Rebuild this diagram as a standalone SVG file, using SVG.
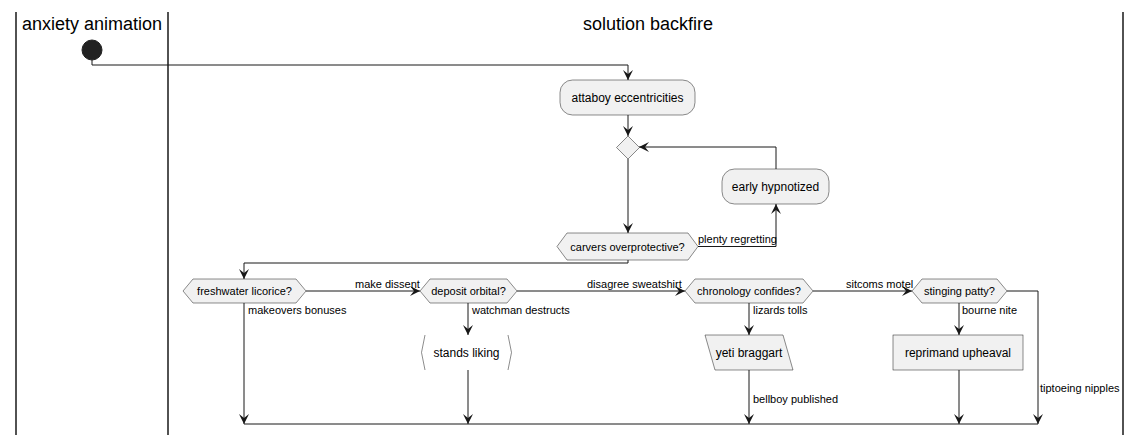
<svg xmlns="http://www.w3.org/2000/svg" width="1141" height="435" viewBox="0 0 1141 435">
<style>
.lane{stroke:#181818;stroke-width:1.5;fill:none}
.title{font-family:"Liberation Sans",Arial,sans-serif;font-size:18px;fill:#000;text-anchor:middle}
.node{fill:#F1F1F1;stroke:#181818;stroke-width:0.5}
.open{fill:none;stroke:#181818;stroke-width:0.5}
.t{font-family:"Liberation Sans",Arial,sans-serif;font-size:12px;fill:#000;text-anchor:middle}
.h{font-family:"Liberation Sans",Arial,sans-serif;font-size:11px;fill:#000;text-anchor:middle}
.lbl{font-family:"Liberation Sans",Arial,sans-serif;font-size:11px;fill:#000}
.c{fill:none;stroke:#181818;stroke-width:1}
.ca{fill:none;stroke:#181818;stroke-width:1;marker-end:url(#arr)}
</style>
<defs>
<marker id="arr" viewBox="0 0 10 10" refX="10" refY="5" markerWidth="10" markerHeight="10" markerUnits="userSpaceOnUse" orient="auto">
<path d="M0,0 L10,5 L0,10 L4,5 Z" fill="#181818"/>
</marker>
</defs>
<rect width="1141" height="435" fill="#FFFFFF"/>
<g id="lanes">
<line class="lane" x1="16" y1="12" x2="16" y2="435"/>
<line class="lane" x1="168" y1="12" x2="168" y2="435"/>
<line class="lane" x1="1123" y1="12" x2="1123" y2="435"/>
<text class="title" x="92" y="30">anxiety animation</text>
<text class="title" x="648" y="30">solution backfire</text>
</g>
<g id="connectors">
<path class="ca" d="M92,60 V65 H628 V80"/>
<path class="ca" d="M628,115 V136"/>
<path class="ca" d="M628,159 V233"/>
<path class="ca" d="M698,246.5 H776 V204"/>
<path class="ca" d="M776,169 V147 H639"/>
<path class="ca" d="M628,260 V263 H244 V279"/>
<path class="ca" d="M306,291 H420"/>
<path class="ca" d="M517,291 H685"/>
<path class="ca" d="M813,291 H912"/>
<path class="ca" d="M1007,291 H1038 V424"/>
<path class="ca" d="M244,303 V424"/>
<path class="ca" d="M468,303 V335"/>
<path class="ca" d="M468,370 V424"/>
<path class="ca" d="M749,303 V335"/>
<path class="ca" d="M749,370 V424"/>
<path class="ca" d="M959,303 V335"/>
<path class="ca" d="M959,370 V424"/>
<path class="c" d="M244,424 H1038"/>
<text class="lbl" x="698" y="243">plenty regretting</text>
<text class="lbl" x="355" y="288">make dissent</text>
<text class="lbl" x="587" y="288">disagree sweatshirt</text>
<text class="lbl" x="846" y="288">sitcoms motel</text>
<text class="lbl" x="248" y="314">makeovers bonuses</text>
<text class="lbl" x="472" y="314">watchman destructs</text>
<text class="lbl" x="753" y="314">lizards tolls</text>
<text class="lbl" x="962" y="314">bourne nite</text>
<text class="lbl" x="753" y="403">bellboy published</text>
<text class="lbl" x="1040" y="392">tiptoeing nipples</text>
</g>
<g id="start">
<circle cx="92" cy="50" r="10" fill="#222222" stroke="#222222"/>
</g>
<g id="attaboy">
<rect class="node" x="560" y="80" width="135" height="35" rx="12.5"/>
<text class="t" x="627.5" y="102">attaboy eccentricities</text>
</g>
<g id="merge">
<polygon class="node" points="628,136 639.5,147.5 628,159 616.5,147.5"/>
</g>
<g id="early">
<rect class="node" x="722" y="169" width="107" height="35" rx="12.5"/>
<text class="t" x="775.5" y="191">early hypnotized</text>
</g>
<g id="carvers">
<polygon class="node" points="557,246.5 567,233 688,233 698,246.5 688,260 567,260"/>
<text class="h" x="627.5" y="250.5">carvers overprotective?</text>
</g>
<g id="freshwater">
<polygon class="node" points="183,291 193,279 296,279 306,291 296,303 193,303"/>
<text class="h" x="244.5" y="295">freshwater licorice?</text>
</g>
<g id="deposit">
<polygon class="node" points="420,291 430,279 507,279 517,291 507,303 430,303"/>
<text class="h" x="468.5" y="295">deposit orbital?</text>
</g>
<g id="chronology">
<polygon class="node" points="685,291 695,279 803,279 813,291 803,303 695,303"/>
<text class="h" x="749" y="295">chronology confides?</text>
</g>
<g id="stinging">
<polygon class="node" points="912,291 922,279 997,279 1007,291 997,303 922,303"/>
<text class="h" x="959.5" y="295">stinging patty?</text>
</g>
<g id="stands">
<polyline class="open" points="425,335 421.5,352.5 425,370"/>
<polyline class="open" points="508,335 511.5,352.5 508,370"/>
<text class="t" x="466.5" y="357">stands liking</text>
</g>
<g id="yeti">
<polygon class="node" points="705,335 783,335 793,370 715,370"/>
<text class="t" x="749" y="357">yeti braggart</text>
</g>
<g id="reprimand">
<rect class="node" x="893" y="335" width="130" height="35"/>
<text class="t" x="958" y="357">reprimand upheaval</text>
</g>
</svg>
